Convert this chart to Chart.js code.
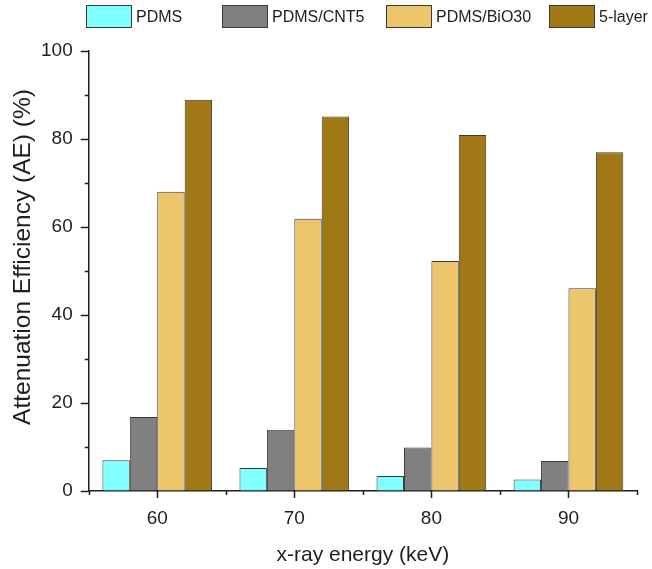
<!DOCTYPE html>
<html>
<head>
<meta charset="utf-8">
<title>Attenuation Efficiency</title>
<script src="https://cdn.jsdelivr.net/npm/chart.js@4.4.0/dist/chart.umd.min.js"></script>
<style>
    html, body { margin: 0; padding: 0; background: #fff; }
    #wrap { width: 652px; height: 569px; }
</style>
</head>
<body>
<div id="wrap"><canvas id="chart"></canvas></div>
<script>
// ===== Data =====
const energies = ['60', '70', '80', '90'];
const pdms = [7.0, 5.2, 3.4, 2.6];
const pdmsCnt5 = [16.8, 13.9, 9.9, 6.8];
const pdmsBiO30 = [68.0, 61.9, 52.3, 46.1];
const fiveLayer = [88.9, 85.1, 80.9, 77.0];

const seriesNames = ['PDMS', 'PDMS/CNT5', 'PDMS/BiO30', '5-layer'];
const seriesColors = ['#80FFFF', '#808080', '#EDC56B', '#A07816'];
const yTitle = 'Attenuation Efficiency (AE) (%)';

const FONT = "'Liberation Sans', Arial, sans-serif";
const INK = '#1e1e1e';

Chart.defaults.font.family = FONT;
Chart.defaults.color = INK;

// Legend laid out in a single row across the top
const legendBoxX = [86, 222, 386, 549];

const topLegend = {
    id: 'topLegend',
    afterDraw(chart) {
        const ctx = chart.ctx;
        ctx.save();
        ctx.font = '16px ' + FONT;
        ctx.textBaseline = 'middle';
        chart.data.datasets.forEach((ds, i) => {
            const x = legendBoxX[i];
            ctx.fillStyle = ds.backgroundColor;
            ctx.fillRect(x, 5, 46, 23);
            ctx.strokeStyle = '#3a3a3a';
            ctx.lineWidth = 1;
            ctx.strokeRect(x + 0.5, 5.5, 45, 22);
            ctx.fillStyle = INK;
            ctx.fillText(ds.label, x + 50, 18);
        });
        ctx.restore();
    }
};

// Rotated y title, sitting a little above the middle of the plot
const yAxisTitle = {
    id: 'yAxisTitle',
    afterDraw(chart) {
        const ctx = chart.ctx;
        ctx.save();
        ctx.translate(23, 257);
        ctx.rotate(-Math.PI / 2);
        ctx.font = '24.5px ' + FONT;
        ctx.fillStyle = INK;
        ctx.textAlign = 'center';
        ctx.textBaseline = 'middle';
        ctx.fillText(yTitle, 0, 0);
        ctx.restore();
    }
};

// Major and minor tick marks pointing outward from both axes
const axisTicks = {
    id: 'axisTicks',
    afterDraw(chart) {
        const ctx = chart.ctx;
        const x = chart.scales.x;
        const y = chart.scales.y;
        ctx.save();
        ctx.strokeStyle = INK;
        ctx.lineWidth = 1.5;
        ctx.beginPath();
        for (let v = 0; v <= 100; v += 10) {
            const py = Math.round(y.getPixelForValue(v)) + 0.5;
            const len = v % 20 === 0 ? 8 : 4;
            ctx.moveTo(y.right, py);
            ctx.lineTo(y.right - len, py);
        }
        const step = (x.right - x.left) / energies.length;
        energies.forEach((e, i) => {
            const px = Math.round(x.getPixelForValue(i)) + 0.5;
            ctx.moveTo(px, x.top);
            ctx.lineTo(px, x.top + 7);
        });
        for (let i = 0; i <= energies.length; i++) {
            const px = Math.round(x.left + i * step) + 0.5;
            ctx.moveTo(px, x.top);
            ctx.lineTo(px, x.top + 4);
        }
        ctx.stroke();
        ctx.restore();
    }
};

const values = [pdms, pdmsCnt5, pdmsBiO30, fiveLayer];

new Chart(document.getElementById('chart'), {
    type: 'bar',
    data: {
        labels: energies,
        datasets: values.map((data, i) => ({
            label: seriesNames[i],
            data: data,
            backgroundColor: seriesColors[i],
            borderColor: '#3a3a3a',
            borderWidth: 1,
            categoryPercentage: 0.8,
            barPercentage: 1.0
        }))
    },
    options: {
        responsive: true,
        maintainAspectRatio: false,
        animation: false,
        layout: {
            padding: { top: 51, right: 15, bottom: 1, left: 25 }
        },
        plugins: {
            legend: { display: false },
            tooltip: { enabled: false }
        },
        scales: {
            x: {
                grid: { display: true, drawOnChartArea: false, drawTicks: false },
                border: { display: true, color: INK, width: 1.5 },
                ticks: { padding: 16, font: { size: 19 }, color: INK },
                title: {
                    display: true,
                    text: 'x-ray energy (keV)',
                    font: { size: 21 },
                    color: INK,
                    padding: { top: -3, bottom: 0 }
                }
            },
            y: {
                min: 0,
                max: 100,
                grid: { display: true, drawOnChartArea: false, drawTicks: false },
                border: { display: true, color: INK, width: 1.5 },
                ticks: {
                    stepSize: 10,
                    padding: 16,
                    font: { size: 19 },
                    color: INK,
                    callback: (v) => (v % 20 === 0 ? v : '')
                }
            }
        }
    },
    plugins: [topLegend, yAxisTitle, axisTicks]
});
</script>
</body>
</html>
